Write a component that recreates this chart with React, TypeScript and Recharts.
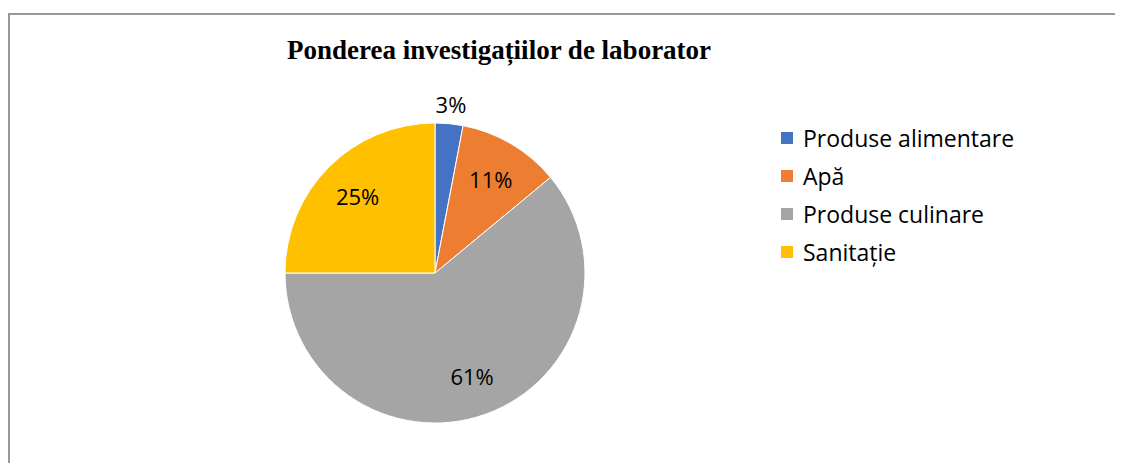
import { PieChart, Pie, Cell } from "recharts";

const categories = ["Produse alimentare", "Apă", "Produse culinare", "Sanitație"];
const shares = [3, 11, 61, 25];
const colors = ["#4472C4", "#ED7D31", "#A5A5A5", "#FFC000"];

const data = categories.map((name, i) => ({ name, value: shares[i] }));

const RAD = Math.PI / 180;
const LABEL_FONT = "'Open Sans', 'Noto Sans', sans-serif";

function SliceLabel({ cx, cy, midAngle, outerRadius, value }: any) {
  // tiny slices get their label outside the pie, like Excel's best-fit
  const r = value < 5 ? outerRadius + 20 : outerRadius * 0.73;
  const x = cx + r * Math.cos(-midAngle * RAD);
  const y = cy + r * Math.sin(-midAngle * RAD);
  return (
    <text x={x} y={y} textAnchor="middle" dominantBaseline="central" fill="#000" fontSize={22} fontFamily={LABEL_FONT}>
      {`${value}%`}
    </text>
  );
}

export default function App() {
  return (
    <div
      style={{
        position: "relative",
        boxSizing: "border-box",
        marginTop: 5,
        width: 1115,
        height: 450,
        borderTop: "2px solid #999",
        borderLeft: "2px solid #999",
        background: "#fff",
      }}
    >
      <style>{"html,body{overflow:hidden}"}</style>
      <div
        style={{
          position: "absolute",
          left: 0,
          width: 978,
          top: 20,
          textAlign: "center",
          fontFamily: "'Liberation Serif', 'Times New Roman', serif",
          fontWeight: "bold",
          fontSize: 27,
          color: "#000",
        }}
      >
        Ponderea investigațiilor de laborator
      </div>
      <PieChart width={1110} height={445}>
        <Pie
          data={data}
          dataKey="value"
          nameKey="name"
          cx={420}
          cy={253}
          outerRadius={150}
          startAngle={90}
          endAngle={-270}
          stroke="#fff"
          strokeWidth={1}
          label={SliceLabel}
          labelLine={false}
          isAnimationActive={false}
        >
          {data.map((d, i) => (
            <Cell key={d.name} fill={colors[i]} />
          ))}
        </Pie>
      </PieChart>
      <div style={{ position: "absolute", left: 771, top: 104, fontFamily: LABEL_FONT, fontSize: 23, color: "#000" }}>
        {categories.map((c, i) => (
          <div key={c} style={{ display: "flex", alignItems: "center", height: 38 }}>
            <span style={{ width: 12, height: 12, background: colors[i], marginRight: 10, display: "inline-block" }} />
            <span>{c}</span>
          </div>
        ))}
      </div>
    </div>
  );
}
